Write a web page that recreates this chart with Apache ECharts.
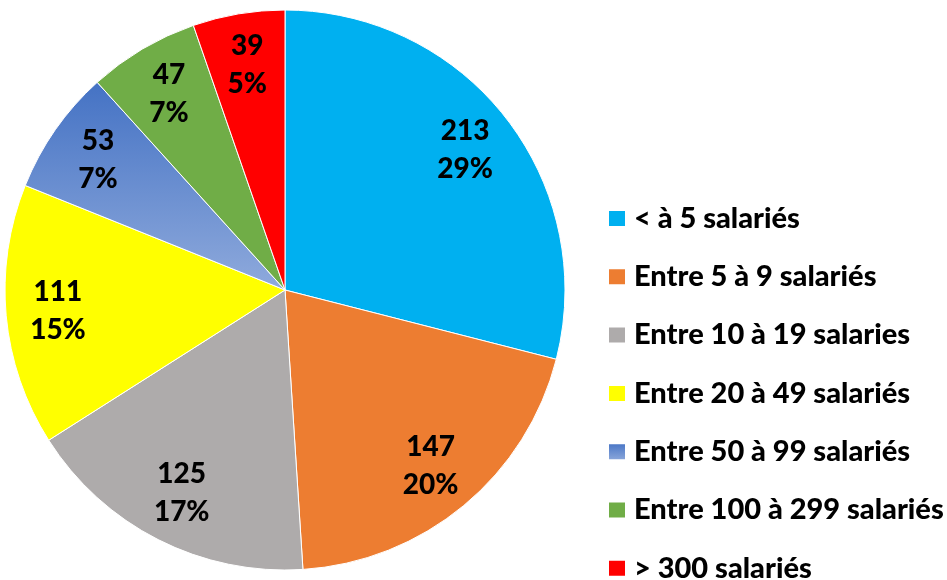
<!DOCTYPE html>
<html style="height: 100%">
<head>
    <meta charset="utf-8">
    <title>Salariés</title>
    <script type="text/javascript" src="https://cdn.jsdelivr.net/npm/echarts@6/dist/echarts.min.js"></script>
</head>
<body style="height: 100%; margin: 0; background: #fff;">
<div id="container" style="width: 947px; height: 580px;"></div>
<script type="text/javascript">
    var categories = ['< à 5 salariés', 'Entre 5 à 9 salariés', 'Entre 10 à 19 salaries',
        'Entre 20 à 49 salariés', 'Entre 50 à 99 salariés', 'Entre 100 à 299 salariés', '> 300 salariés'];
    var values = [213, 147, 125, 111, 53, 47, 39];
    var percents = ['29%', '20%', '17%', '15%', '7%', '7%', '5%'];

    var FONT = 'Lato, Roboto, sans-serif';
    var colors = [
        '#00B0F0',
        '#ED7D31',
        '#AEABAB',
        '#FFFF00',
        new echarts.graphic.LinearGradient(0, 0, 0, 1, [
            {offset: 0, color: '#4472C4'},
            {offset: 1, color: '#8FAADC'}
        ]),
        '#70AD47',
        '#FF0000'
    ];

    var sliceData = [];
    var labelData = [];
    for (var i = 0; i < categories.length; i++) {
        sliceData.push({name: categories[i], value: values[i], itemStyle: {color: colors[i]}});
        labelData.push({name: categories[i], value: values[i], pct: percents[i]});
    }

    var myChart = echarts.init(document.getElementById('container'));
    var option = {
        animation: false,
        legend: {
            orient: 'vertical',
            left: 607,
            top: 204,
            height: 440,
            padding: 0,
            icon: 'rect',
            itemWidth: 18,
            itemHeight: 17,
            itemGap: 29.3,
            data: categories,
            textStyle: {
                fontFamily: FONT,
                fontWeight: 900,
                fontSize: 29,
                color: '#000',
                padding: [0, 0, 0, 3]
            }
        },
        series: [
            {
                type: 'pie',
                center: [285, 290],
                radius: [0, 280],
                startAngle: 90,
                clockwise: true,
                silent: true,
                itemStyle: {borderColor: '#fff', borderWidth: 1},
                label: {show: false},
                labelLine: {show: false},
                data: sliceData
            },
            {
                // calque invisible qui porte les étiquettes à ~0,8 du rayon
                type: 'pie',
                center: [285, 290],
                radius: [170, 280],
                startAngle: 90,
                clockwise: true,
                silent: true,
                itemStyle: {color: 'rgba(0,0,0,0)'},
                labelLine: {show: false},
                label: {
                    show: true,
                    position: 'inside',
                    fontFamily: FONT,
                    fontWeight: 900,
                    fontSize: 28,
                    lineHeight: 38,
                    color: '#000',
                    formatter: function (p) {
                        return p.value + '\n' + p.data.pct;
                    }
                },
                data: labelData
            }
        ]
    };
    myChart.setOption(option);
</script>
</body>
</html>
